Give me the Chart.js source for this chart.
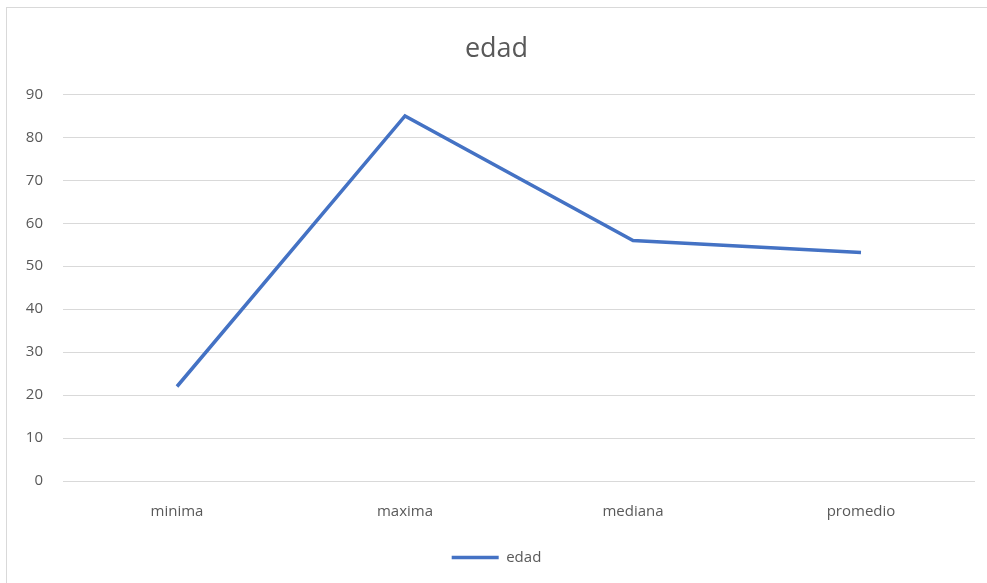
<!DOCTYPE html>
<html>
<head>
<meta charset="utf-8">
<script src="https://cdn.jsdelivr.net/npm/chart.js@4/dist/chart.umd.min.js"></script>
<style>
  html, body { margin: 0; padding: 0; background: #fff; }
  #wrap { position: relative; width: 987px; height: 583px; }
  #frame { position: absolute; left: 6px; top: 7px; width: 990px; height: 590px; border: 1px solid #d9d9d9; box-sizing: border-box; }
  #wrap canvas { position: absolute; left: 0; top: 0; }
</style>
</head>
<body>
<div id="wrap">
  <div id="frame"></div>
  <canvas id="edadChart" width="987" height="583"></canvas>
</div>
<script>
const categories = ['minima', 'maxima', 'mediana', 'promedio'];
const edadValues = [22, 85, 56, 53.2];
const yTicks = [0, 10, 20, 30, 40, 50, 60, 70, 80, 90];

document.addEventListener('DOMContentLoaded', () => {
    const ctx = document.getElementById('edadChart').getContext('2d');
    const fontFamily = "'Open Sans', 'Liberation Sans', sans-serif";

    new Chart(ctx, {
        type: 'line',
        data: {
            labels: categories,
            datasets: [{
                label: 'edad',
                data: edadValues,
                borderColor: '#4472C4',
                backgroundColor: '#4472C4',
                borderWidth: 3.5,
                pointRadius: 0,
                fill: false,
                tension: 0
            }]
        },
        options: {
            responsive: false,
            animation: false,
            layout: { padding: { left: 18, right: 12, top: 33, bottom: 8 } },
            scales: {
                x: {
                    offset: true,
                    grid: { display: false },
                    border: { display: false },
                    ticks: { color: '#595959', font: { family: fontFamily, size: 15 }, padding: 14 },
                    afterFit: scale => { scale.height = 55; }
                },
                y: {
                    min: 0,
                    max: 90,
                    afterBuildTicks: scale => { scale.ticks = yTicks.map(v => ({ value: v })); },
                    grid: { color: '#d9d9d9', lineWidth: 1, drawTicks: false },
                    border: { display: false },
                    ticks: { color: '#595959', font: { family: fontFamily, size: 15 }, padding: 20 },
                    afterFit: scale => { scale.width = 45; }
                }
            },
            plugins: {
                title: {
                    display: true,
                    text: 'edad',
                    color: '#595959',
                    font: { family: fontFamily, size: 27, weight: 'normal' },
                    padding: { top: 0, bottom: 29 }
                },
                legend: {
                    position: 'bottom',
                    labels: {
                        color: '#595959',
                        font: { family: fontFamily, size: 15 },
                        usePointStyle: true,
                        pointStyle: 'line',
                        pointStyleWidth: 47,
                        boxHeight: 10,
                        padding: 14
                    }
                },
                tooltip: { enabled: false }
            }
        }
    });
});
</script>
</body>
</html>
